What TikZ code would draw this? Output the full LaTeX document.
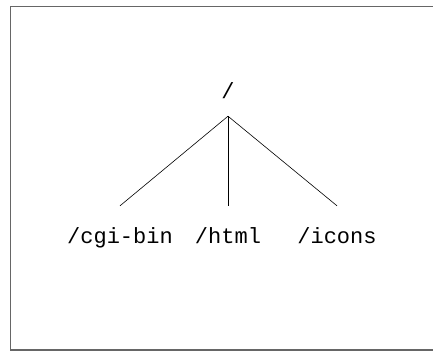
\documentclass[tikz,border=0pt]{standalone}
\usepackage{fontspec}
\newfontfamily\dirfont{Liberation Mono}
\usepackage{tikz}

\begin{document}
\begin{tikzpicture}[x=1pt, y=-1pt,
    dir/.style={font=\dirfont\fontsize{22}{26}\selectfont, inner xsep=0pt,
        text height=12pt, text depth=4pt, anchor=base},
    topdir/.style={dir, inner ysep=14pt},
    subdir/.style={dir, inner ysep=25pt},
    branch/.style={line width=0.6pt}]
    \useasboundingbox (0,0) rectangle (433,353);
    %frame, open on the right
    \draw[black!60, line width=1.2pt] (434,6.5) -- (10.5,6.5) -- (10.5,350) -- (434,350);

    \node[topdir] (root) at (228,98) {/};
    \foreach \name/\x/\txt in {cgi/120/{/cgi-bin}, html/228/{/html}, icons/337/{/icons}}
    {
        \node[subdir] (\name) at (\x,243) {\txt};
        \draw[branch] (root.south) -- (\name.north);
    }
\end{tikzpicture}
\end{document}
